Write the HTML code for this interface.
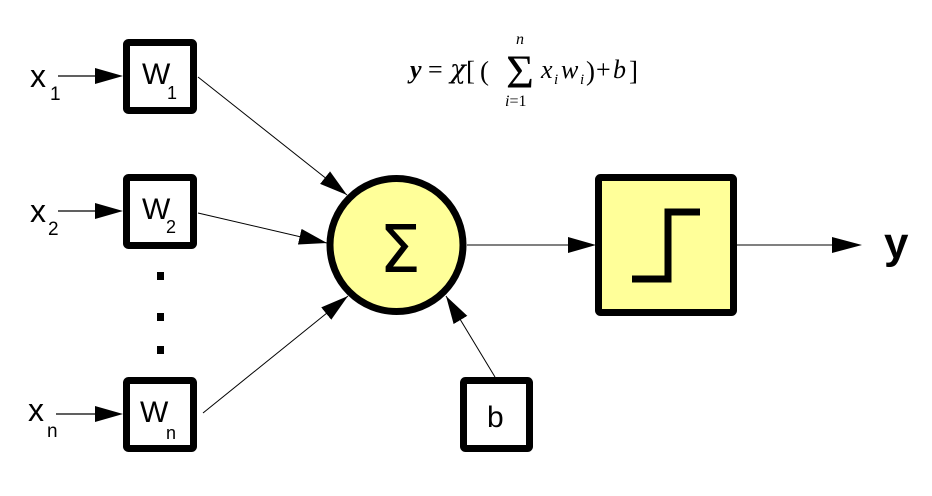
<!DOCTYPE html>
<html><head><style>html,body{margin:0;padding:0;background:#fff;}</style></head>
<body>
<svg width="932" height="491" viewBox="0 0 932 491" xmlns="http://www.w3.org/2000/svg">
<defs>
<marker id="a" markerWidth="28" markerHeight="16" refX="28" refY="8" orient="auto" markerUnits="userSpaceOnUse" viewBox="0 0 28 16">
<path d="M0,0 L28,8 L0,16 z" fill="#000"/></marker>
</defs>
<g font-family="Liberation Sans, Arial, sans-serif" fill="#000">
<text x="30" y="87" font-size="32">x</text><text x="50" y="100" font-size="19">1</text>
<text x="30" y="222" font-size="32">x</text><text x="48" y="235" font-size="19">2</text>
<text x="28" y="421" font-size="32">x</text><text x="47" y="437" font-size="19">n</text>
</g>
<g stroke="#000" stroke-width="1.2">
<line x1="58" y1="76" x2="95" y2="76"/><path d="M95,68 L123,76 L95,84 z" fill="#000" stroke="none"/>
<line x1="58" y1="211" x2="95" y2="211"/><path d="M95,203 L123,211 L95,219 z" fill="#000" stroke="none"/>
<line x1="56" y1="414" x2="95" y2="414"/><path d="M95,406 L123,414 L95,422 z" fill="#000" stroke="none"/>
</g>
<g fill="#fff" stroke="#000" stroke-width="7">
<rect x="126.5" y="42.5" width="67" height="68" rx="2"/>
<rect x="126.5" y="177.5" width="67" height="68" rx="2"/>
<rect x="126.5" y="380.5" width="67" height="68" rx="2"/>
<rect x="463.5" y="380.5" width="66" height="68" rx="2"/>
</g>
<g font-family="Liberation Sans, Arial, sans-serif" fill="#000">
<text x="142" y="84" font-size="30">W</text><text x="167" y="99" font-size="18">1</text>
<text x="142" y="219" font-size="30">W</text><text x="166" y="233" font-size="18">2</text>
<text x="140" y="422" font-size="30">W</text><text x="166" y="439" font-size="18">n</text>
<text x="487" y="427" font-size="30">b</text>
</g>
<rect x="157" y="272" width="7" height="8"/><rect x="157" y="313" width="7" height="8"/><rect x="157" y="346" width="7" height="8"/>
<g stroke="#000" stroke-width="1">
<line x1="198" y1="77" x2="347" y2="195" marker-end="url(#a)"/>
<line x1="198" y1="213" x2="327" y2="243" marker-end="url(#a)"/>
<line x1="203" y1="413" x2="348" y2="296" marker-end="url(#a)"/>
<line x1="495" y1="377" x2="446" y2="296" marker-end="url(#a)"/>
<line x1="467" y1="245" x2="570" y2="245"/>
<line x1="737" y1="245" x2="835" y2="245"/>
</g>
<path d="M568,237 L596,245 L568,253 z" fill="#000"/>
<path d="M832,237 L862,245 L832,253 z" fill="#000"/>
<circle cx="396.5" cy="245" r="66.5" fill="#ffff99" stroke="#000" stroke-width="7"/>
<text x="400" y="272" font-family="DejaVu Sans, Liberation Sans, sans-serif" font-size="66" text-anchor="middle">Σ</text>
<rect x="598.5" y="177.5" width="135" height="135" rx="2" fill="#ffff99" stroke="#000" stroke-width="7"/>
<path d="M632,279 L668,279 L668,212 L700,212" fill="none" stroke="#000" stroke-width="7"/>
<text x="884" y="258" font-family="Liberation Sans, Arial, sans-serif" font-size="44" font-weight="bold">y</text>
<g font-family="Liberation Serif, Times New Roman, serif" fill="#000">
<text x="410" y="78" font-size="26" font-style="italic" font-weight="bold">y</text>
<text x="428" y="78" font-size="26">=</text>
<text x="450" y="78" font-size="26" font-family="DejaVu Serif, serif" font-style="italic">χ</text>
<text x="466" y="80" font-size="27">[</text>
<text x="480" y="80" font-size="27">(</text>
<text x="520" y="88" font-size="48" text-anchor="middle">Σ</text>
<text x="516" y="44" font-size="16" font-style="italic">n</text>
<text x="505" y="106" font-size="16"><tspan font-style="italic">i</tspan>=1</text>
<text x="541" y="78" font-size="26" font-style="italic">x</text><text x="554" y="84" font-size="15" font-style="italic">i</text>
<text x="561" y="78" font-size="26" font-style="italic">w</text><text x="580" y="84" font-size="15" font-style="italic">i</text>
<text x="586" y="80" font-size="27">)</text>
<text x="596" y="78" font-size="26">+</text>
<text x="613" y="78" font-size="26" font-style="italic">b</text>
<text x="629" y="80" font-size="27">]</text>
</g>
</svg>
</body></html>
